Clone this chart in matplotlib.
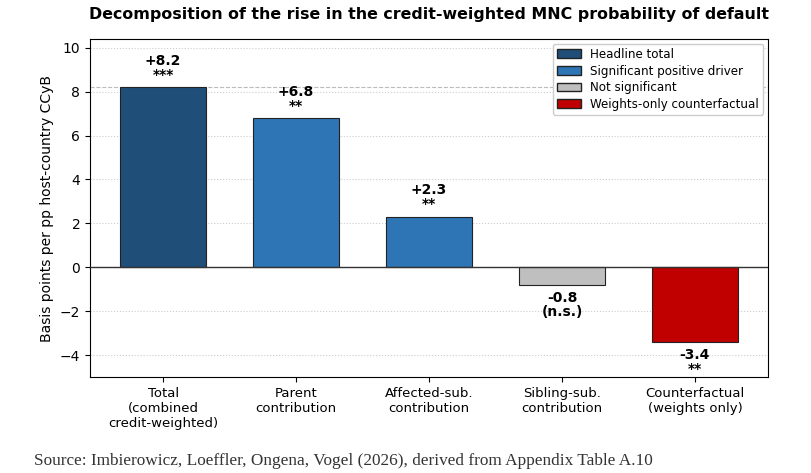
import numpy as np
import matplotlib.pyplot as plt
from matplotlib.patches import Patch

# Werte aus Abbildung
kategorien = ["Total\n(combined\ncredit-weighted)", "Parent\ncontribution",
              "Affected-sub.\ncontribution", "Sibling-sub.\ncontribution",
              "Counterfactual\n(weights only)"]
werte = [8.2, 6.8, 2.3, -0.8, -3.4]
sterne = ["***", "**", "**", "(n.s.)", "**"]
farben = ["#1f4e79", "#2e75b6", "#2e75b6", "#bfbfbf", "#c00000"]

legende_namen = ["Headline total", "Significant positive driver",
                 "Not significant", "Weights-only counterfactual"]
legende_farben = ["#1f4e79", "#2e75b6", "#bfbfbf", "#c00000"]

fig = plt.figure(figsize=(8.11, 4.73), dpi=100)
ax = fig.add_axes([90/811, 1 - 377/473, 678/811, 338/473])

x = np.arange(len(werte))
ax.bar(x, werte, width=0.65, color=farben, edgecolor="#222222", linewidth=0.8, zorder=3)

ax.axhline(0, color="#333333", linewidth=1.0, zorder=4)
ax.axhline(werte[0], color="#bbbbbb", linewidth=0.8, linestyle="--", zorder=1)

for xi, v, s in zip(x, werte, sterne):
    if v >= 0:
        ax.text(xi, v + 0.25, f"+{v:.1f}\n{s}", ha="center", va="bottom",
                fontsize=10, fontweight="bold", linespacing=1.0)
    else:
        ax.text(xi, v - 0.3, f"{v:.1f}\n{s}", ha="center", va="top",
                fontsize=10, fontweight="bold", linespacing=1.0)

ax.set_xlim(-0.55, 4.55)
ax.set_ylim(-5, 10.4)
ax.set_yticks([-4, -2, 0, 2, 4, 6, 8, 10])
ax.set_xticks(x)
ax.set_xticklabels(kategorien, fontsize=9.5)
ax.tick_params(axis="y", labelsize=10)
ax.set_ylabel("Basis points per pp host-country CCyB", fontsize=10)
ax.yaxis.grid(True, linestyle=":", color="#cccccc", linewidth=0.8, zorder=0)
ax.set_axisbelow(True)

handles = [Patch(facecolor=c, edgecolor="#222222", label=n)
           for c, n in zip(legende_farben, legende_namen)]
ax.legend(handles=handles, loc="upper right", fontsize=8.6, framealpha=1,
          handlelength=2.0, handleheight=0.75, borderpad=0.35, labelspacing=0.3,
          borderaxespad=0.4)

fig.text(429/811, 1 - 14/473, "Decomposition of the rise in the credit-weighted MNC probability of default",
         ha="center", va="center", fontsize=11.4, fontweight="bold")
fig.text(34/811, 1 - 461/473, "Source: Imbierowicz, Loeffler, Ongena, Vogel (2026), derived from Appendix Table A.10",
         ha="left", va="center", fontsize=12.4, family="Liberation Serif", color="#333333")

fig.savefig("out.png", dpi=100)
